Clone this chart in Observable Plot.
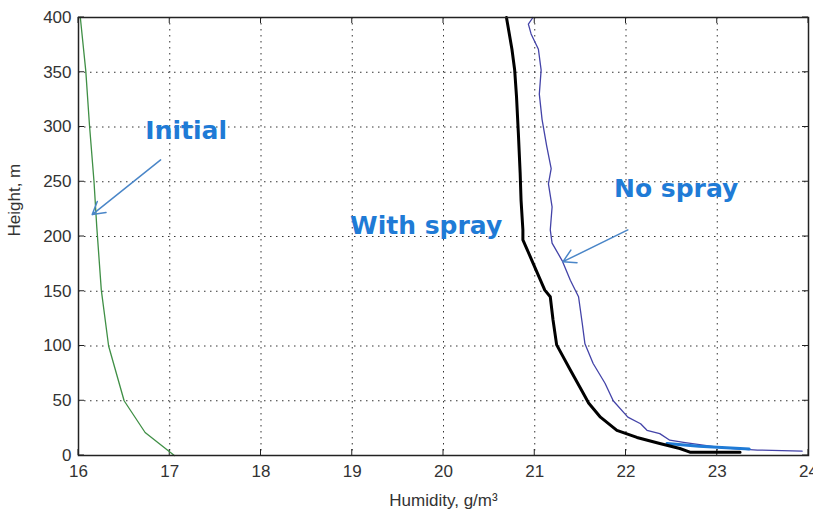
<!DOCTYPE html>
<html>
<head>
<meta charset="utf-8">
<script src="https://cdn.jsdelivr.net/npm/d3@7"></script>
<script src="https://cdn.jsdelivr.net/npm/@observablehq/plot@0.6"></script>
<style>
  html, body { margin: 0; padding: 0; background: #fff; }
  #chart svg { display: block; }
</style>
</head>
<body>
<div id="chart"></div>
<script>
// Tick values
const xTicks = [16, 17, 18, 19, 20, 21, 22, 23, 24];
const yTicks = [0, 50, 100, 150, 200, 250, 300, 350, 400];

// Initial profile (green)
const initialHeight = [400, 351, 302, 250, 209, 151, 100, 50, 21, 0];
const initialHumidity = [16.02, 16.08, 16.12, 16.17, 16.20, 16.25, 16.33, 16.50, 16.73, 17.05];

// With spray (black, thick)
const sprayHeight = [400, 371, 352, 328, 295, 258, 233, 206, 197, 176, 151, 145, 124, 101, 78, 57, 48, 35, 23, 16.5, 11, 6.4, 4, 3, 3];
const sprayHumidity = [20.69, 20.75, 20.78, 20.80, 20.82, 20.84, 20.85, 20.87, 20.87, 20.98, 21.11, 21.17, 21.20, 21.24, 21.39, 21.53, 21.59, 21.72, 21.90, 22.12, 22.37, 22.59, 22.67, 22.70, 23.25];

// No spray (dark blue/purple, thin)
const noSprayHeight = [400, 394, 385, 371, 352, 330, 307, 283, 262, 248, 227, 206, 194, 178, 160, 145, 121, 102, 84, 66, 50, 35, 29, 23, 20, 14, 12, 7, 5, 4];
const noSprayHumidity = [20.98, 20.93, 20.96, 21.04, 21.07, 21.05, 21.08, 21.13, 21.18, 21.15, 21.19, 21.17, 21.19, 21.30, 21.39, 21.48, 21.52, 21.55, 21.64, 21.77, 21.86, 22.02, 22.16, 22.23, 22.37, 22.48, 22.63, 23.06, 23.44, 23.93];

// Bright blue fragment near ground
const fragHeight = [11, 8.5, 7, 6];
const fragHumidity = [22.45, 22.8, 23.1, 23.35];

// Annotations
const labelText = ["Initial", "With spray", "No spray"];
const labelX = [17.18, 19.81, 22.55];
const labelY = [296, 210, 243];
const arrowX1 = [16.90, 22.02];
const arrowY1 = [270, 206];
const arrowX2 = [16.15, 21.31];
const arrowY2 = [220, 177];

const zip = (xs, ys) => xs.map((x, i) => ({x, y: ys[i]}));
const initial = zip(initialHumidity, initialHeight);
const spray = zip(sprayHumidity, sprayHeight);
const noSpray = zip(noSprayHumidity, noSprayHeight);
const frag = zip(fragHumidity, fragHeight);
const labels = labelText.map((t, i) => ({t, x: labelX[i], y: labelY[i]}));
const arrows = arrowX1.map((x1, i) => ({x1, y1: arrowY1[i], x2: arrowX2[i], y2: arrowY2[i]}));

function inwardTicks(index, scales, values, dimensions) {
  const {width, height, marginLeft, marginRight, marginTop, marginBottom} = dimensions;
  const L = marginLeft, R = width - marginRight, T = marginTop, B = height - marginBottom;
  const g = d3.create("svg:g").attr("stroke", "#222").attr("stroke-width", 1);
  for (const t of xTicks) {
    const px = scales.x(t);
    g.append("line").attr("x1", px).attr("x2", px).attr("y1", B).attr("y2", B - 6);
    g.append("line").attr("x1", px).attr("x2", px).attr("y1", T).attr("y2", T + 6);
  }
  for (const t of yTicks) {
    const py = scales.y(t);
    g.append("line").attr("y1", py).attr("y2", py).attr("x1", L).attr("x2", L + 6);
    g.append("line").attr("y1", py).attr("y2", py).attr("x1", R).attr("x2", R - 6);
  }
  return g.node();
}

const chart = Plot.plot({
  width: 813,
  height: 518,
  marginLeft: 78,
  marginRight: 5,
  marginTop: 17,
  marginBottom: 63,
  style: {fontFamily: "Liberation Sans, Arial, sans-serif", background: "#fff"},
  x: {domain: [16, 24], label: null},
  y: {domain: [0, 400], label: null},
  marks: [
    Plot.ruleX(xTicks, {stroke: "#333", strokeDasharray: "1.5,4.5", strokeWidth: 1}),
    Plot.ruleY(yTicks, {stroke: "#333", strokeDasharray: "1.5,4.5", strokeWidth: 1}),
    Plot.axisX(xTicks, {tickSize: 0, tickPadding: 9, fontSize: 17, fill: "#333", label: null}),
    Plot.axisY(yTicks, {tickSize: 0, tickPadding: 7, fontSize: 17, fill: "#333", label: null}),
    inwardTicks,
    Plot.line(initial, {x: "x", y: "y", stroke: "#3f8f45", strokeWidth: 1.3}),
    Plot.line(noSpray, {x: "x", y: "y", stroke: "#4343a8", strokeWidth: 1.3}),
    Plot.line(frag, {x: "x", y: "y", stroke: "#1f7bd6", strokeWidth: 3}),
    Plot.line(spray, {x: "x", y: "y", stroke: "#000", strokeWidth: 3}),
    Plot.arrow(arrows, {x1: "x1", y1: "y1", x2: "x2", y2: "y2", stroke: "#4a86c8", strokeWidth: 1.5, headLength: 14}),
    Plot.text(labels, {x: "x", y: "y", text: "t", fill: "#1f7bd6", fontSize: 25, fontWeight: "bold", fontFamily: "DejaVu Sans"}),
    Plot.text(["Humidity, g/m³"], {frameAnchor: "bottom", dy: 50, fontSize: 17, fill: "#333"}),
    Plot.text(["Height, m"], {frameAnchor: "left", dx: -64, rotate: -90, fontSize: 17, fill: "#333"}),
    Plot.frame({stroke: "#222", strokeWidth: 1.5})
  ]
});
document.getElementById("chart").appendChild(chart);
</script>
</body>
</html>
